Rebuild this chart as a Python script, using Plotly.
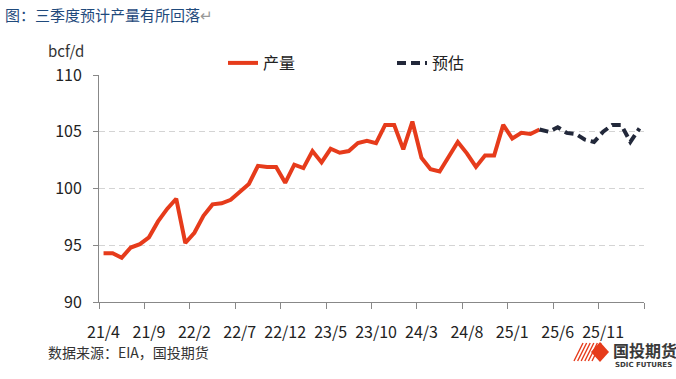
import plotly.graph_objects as go

# ---- data ----
tick_labels = ["21/4", "21/9", "22/2", "22/7", "22/12", "23/5", "23/10",
               "24/3", "24/8", "25/1", "25/6", "25/11"]
production = [94.3, 94.3, 93.9, 94.8, 95.1, 95.7, 97.1, 98.2, 99.1, 95.2,
              96.1, 97.6, 98.6, 98.7, 99.0, 99.7, 100.4, 102.0, 101.9, 101.9,
              100.5, 102.1, 101.8, 103.3, 102.3, 103.5, 103.15, 103.3, 104.0, 104.2,
              104.0, 105.6, 105.6, 103.45, 105.9, 102.7, 101.7, 101.5, 102.8, 104.1,
              103.1, 101.9, 102.9, 102.9, 105.6, 104.4, 104.9, 104.8, 105.2]
forecast_start = 48
forecast = [105.2, 105.0, 105.4, 104.9, 104.8, 104.3, 104.1, 105.0, 105.6, 105.6,
            104.1, 105.3]

x_prod = list(range(len(production)))
x_fc = list(range(forecast_start, forecast_start + len(forecast)))
label_pos = [5 * k for k in range(len(tick_labels))]
boundary_pos = [5 * k - 0.5 for k in range(len(tick_labels) + 1)]

RED = "#E63B1B"
NAVY = "#22283A"
FONT = "Noto Sans CJK SC"

# plot area in pixels
L, R, T, B = 99, 644, 75, 302
W, H = 676, 379
def px(x):
    return (x - L) / (R - L)
def py(y):
    return (B - y) / (B - T)

fig = go.Figure()
fig.add_trace(go.Scatter(x=x_prod, y=production, mode="lines", name="产量",
                         line=dict(color=RED, width=4), legend="legend"))
fig.add_trace(go.Scatter(x=x_fc, y=forecast, mode="lines", name="预估",
                         line=dict(color=NAVY, width=4, dash="9px,5px"), legend="legend2"))
# invisible trace to anchor label axis
fig.add_trace(go.Scatter(x=[0], y=[100], xaxis="x2", mode="markers",
                         marker=dict(opacity=0), showlegend=False, hoverinfo="skip"))

fig.update_layout(
    width=W, height=H,
    margin=dict(l=L, r=W - R, t=T, b=H - B),
    paper_bgcolor="white", plot_bgcolor="white",
    font=dict(family=FONT, color="#333333", size=16),
    xaxis=dict(range=[-0.5, 59.5], tickvals=boundary_pos, ticktext=[""] * len(boundary_pos),
               ticks="outside", ticklen=6, tickcolor="#888888",
               showline=True, linecolor="#888888", linewidth=1,
               showgrid=False, zeroline=False),
    xaxis2=dict(range=[-0.5, 59.5], overlaying="x", side="bottom",
                tickvals=label_pos, ticktext=tick_labels,
                ticks="outside", ticklen=16, tickcolor="rgba(0,0,0,0)",
                showline=False, showgrid=False, zeroline=False,
                tickfont=dict(size=16, color="#222222")),
    yaxis=dict(range=[90, 110], tickvals=[90, 95, 100, 105, 110],
               ticks="outside", ticklen=5, tickcolor="#888888",
               showline=True, linecolor="#888888", linewidth=1,
               showgrid=True, gridcolor="#D4D4D4", griddash="6px,4px", gridwidth=1,
               zeroline=False, ticklabelstandoff=8,
               tickfont=dict(size=16, color="#222222")),
    legend=dict(orientation="h", x=px(223), y=py(63), xanchor="left", yanchor="middle",
                font=dict(size=16, color="#222222"), bgcolor="rgba(0,0,0,0)"),
    legend2=dict(orientation="h", x=px(392), y=py(63), xanchor="left", yanchor="middle",
                 font=dict(size=16, color="#222222"), bgcolor="rgba(0,0,0,0)"),
    showlegend=True,
)

annotations = [
    dict(text="图：三季度预计产量有所回落<span style='color:#999999'>↵</span>",
         x=px(3), y=py(15), xanchor="left", yanchor="middle",
         font=dict(size=15, color="#1F4A7C", family=FONT)),
    dict(text="bcf/d", x=px(46), y=py(50), xanchor="left", yanchor="middle",
         font=dict(size=15, color="#333333")),
    dict(text="数据来源：EIA，国投期货", x=px(46), y=py(352), xanchor="left", yanchor="middle",
         font=dict(size=14, color="#333333")),
    dict(text="<b>国投期货</b>", x=px(611), y=py(350), xanchor="left", yanchor="middle",
         font=dict(size=16, color="#3A3A3A")),
    dict(text="<b>SDIC FUTURES</b>", x=px(613), y=py(365), xanchor="left", yanchor="middle",
         font=dict(size=7, color="#3A3A3A", family="DejaVu Sans")),
]
for a in annotations:
    a.update(xref="paper", yref="paper", showarrow=False)
fig.update_layout(annotations=annotations)

shapes = []
# logo stripes
for k in range(6):
    x0 = 574 + k * 3.6
    shapes.append(dict(type="line", xref="paper", yref="paper",
                       x0=px(x0), y0=py(361), x1=px(x0 + 9), y1=py(343),
                       line=dict(color=RED, width=1.4)))
# logo diamond
cx, cy, hw, hh = 600, 352, 9, 10
path = (f"M {px(cx - hw)} {py(cy)} L {px(cx)} {py(cy - hh)} "
        f"L {px(cx + hw)} {py(cy)} L {px(cx)} {py(cy + hh)} Z")
shapes.append(dict(type="path", xref="paper", yref="paper", path=path,
                   fillcolor=RED, line=dict(width=0)))
fig.update_layout(shapes=shapes)

fig.write_html("out.html", config={"displayModeBar": False},
               post_script="document.body.style.margin='0';document.body.style.padding='0';")
